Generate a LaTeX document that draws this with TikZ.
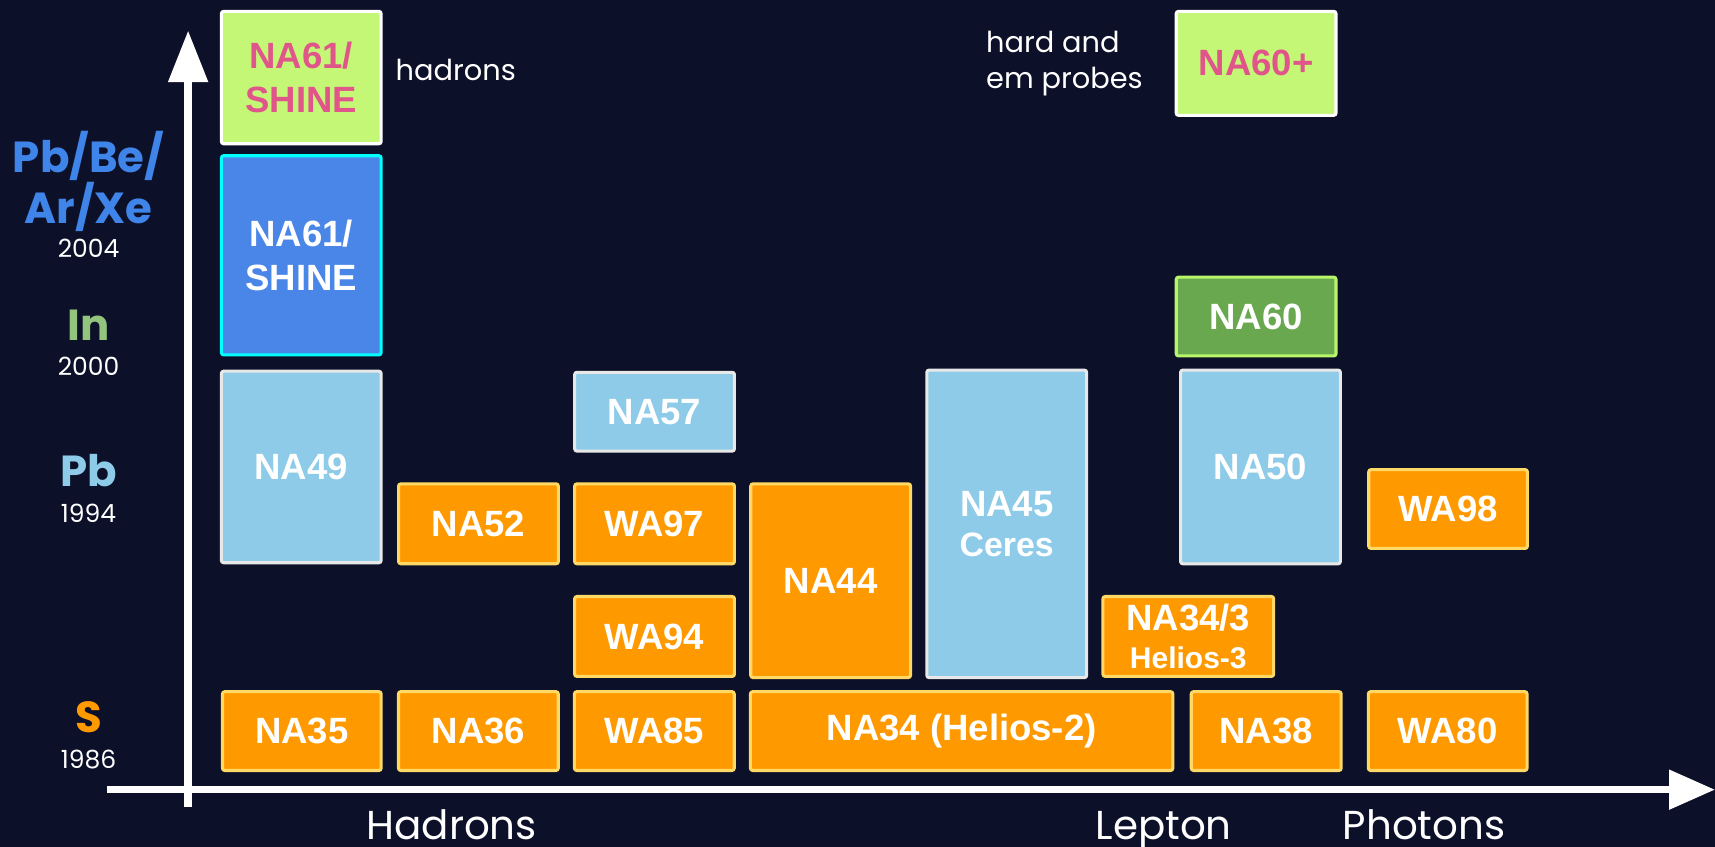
\documentclass[tikz,border=0pt]{standalone}
\usepackage{fontspec}
\setmainfont{Liberation Sans}
\newfontfamily\popfont{Poppins}
\usepackage{tikz}
\usetikzlibrary{positioning,arrows.meta}

\definecolor{bgnavy}{HTML}{0C1029}
\definecolor{sfill}{HTML}{FF9900}
\definecolor{sline}{HTML}{FFD966}
\definecolor{pbfill}{HTML}{8DCBE8}
\definecolor{pbline}{HTML}{E8E8E8}
\definecolor{infill}{HTML}{6AA84F}
\definecolor{inline}{HTML}{B8F56B}
\definecolor{xefill}{HTML}{4A86E8}
\definecolor{xeline}{HTML}{00FFFF}
\definecolor{newfill}{HTML}{C5F777}
\definecolor{newtext}{HTML}{E0558A}
\definecolor{xelab}{HTML}{3F84E8}
\definecolor{inlab}{HTML}{93C47D}

\tikzset{
  expt/.style={rectangle, rounded corners=0.6pt, line width=0.8pt, inner sep=0pt,
    anchor=north west, align=center, text=white,
    font=\bfseries\fontsize{9.5}{11.4}\selectfont},
  sz/.style 2 args={minimum width=#1cm, minimum height=#2cm},
  sbeam/.style={expt, fill=sfill, draw=sline},
  pbbeam/.style={expt, fill=pbfill, draw=pbline},
  inbeam/.style={expt, fill=infill, draw=inline},
  xebeam/.style={expt, fill=xefill, draw=xeline},
  newexp/.style={expt, fill=newfill, draw=white, text=newtext},
  axisline/.style={white, line width=1.9pt},
  ylab/.style={anchor=base, inner sep=0pt, font=\popfont\bfseries\fontsize{11.3}{14}\selectfont},
  yearlab/.style={anchor=base, inner sep=0pt, text=white, font=\popfont\fontsize{6.5}{8}\selectfont},
  note/.style={inner sep=0pt, text=white, align=left, font=\popfont\fontsize{7.5}{9.4}\selectfont},
  xlab/.style={anchor=base, inner sep=0pt, text=white, font=\popfont\fontsize{10.5}{12}\selectfont}
}

\begin{document}
\begin{tikzpicture}[x=0.01cm, y=-0.01cm]
	\fill[bgnavy] (0,0) rectangle (1568,774);
	\useasboundingbox (0,0) rectangle (1568,774);

	%% axes
	\coordinate (h1) at (98,722);
	\coordinate (h2) at (1568,722);
	\coordinate (v1) at (172,738);
	\coordinate (v2) at (172,28);
	\draw[axisline, -{Triangle[length=0.42cm,width=0.35cm]}] (h1) -- (h2);
	\draw[axisline, -{Triangle[length=0.47cm,width=0.35cm]}] (v1) -- (v2);

	%% S beam, 1986
	\node[sbeam, sz={1.45}{0.72}] (na35) at (202,631) {NA35};
	\node[sbeam, sz={1.46}{0.72}, right=0.13cm of na35] (na36) {NA36};
	\node[sbeam, sz={1.46}{0.72}, right=0.12cm of na36] (wa85) {WA85};
	\node[sbeam, sz={3.86}{0.72}, right=0.12cm of wa85] (na34) {NA34 (Helios-2)};
	\node[sbeam, sz={1.37}{0.72}, right=0.14cm of na34] (na38) {NA38};
	\node[sbeam, sz={1.45}{0.72}, right=0.22cm of na38] (wa80) {WA80};
	\node[sbeam, sz={1.46}{0.73}] (na52) at (363,441) {NA52};
	\node[sbeam, sz={1.46}{0.73}] (wa97) at (524,441) {WA97};
	\node[sbeam, sz={1.46}{0.73}] (wa94) at (524,544) {WA94};
	\node[sbeam, sz={1.46}{1.77}] (na44) at (685,441) {NA44};
	\node[sbeam, sz={1.56}{0.73}] (na343) at (1007,544) {NA34/3\\[-1.5pt]{\fontsize{7.8}{9}\selectfont Helios-3}};
	\node[sbeam, sz={1.45}{0.72}] (wa98) at (1250,428) {WA98};

	%% Pb beam, 1994
	\node[pbbeam, sz={1.46}{1.75}] (na49) at (201,338) {NA49};
	\node[pbbeam, sz={1.46}{0.72}] (na57) at (524,339) {NA57};
	\node[pbbeam, sz={1.46}{2.81}] (na45) at (846,337) {NA45\\[-1pt]{\fontsize{8.8}{10}\selectfont Ceres}};
	\node[pbbeam, sz={1.46}{1.77}] (na50) at (1078,337) {NA50};

	%% In, Pb/Be/Ar/Xe and the new ones
	\node[inbeam, sz={1.46}{0.72}] (na60) at (1074,252) {NA60};
	\node[xebeam, sz={1.46}{1.82}] (na61) at (201,141) {NA61/\\SHINE};
	\node[newexp, sz={1.46}{1.21}] (na61p) at (201,9) {NA61/\\SHINE};
	\node[newexp, sz={1.46}{0.95}] (na60p) at (1074,9) {NA60+};

	\node[note, anchor=base west] (nhad) at (361,74) {hadrons};
	\node[note, anchor=north west] (nprobe) at (901,28) {hard and\\em probes};

	%% beams on the y axis
	\node[ylab, text=xelab] (lpbbe) at (81,158) {Pb/Be/};
	\node[ylab, text=xelab] (larxe) at (81,204) {Ar/Xe};
	\node[yearlab] (y04) at (81,235) {2004};
	\node[ylab, text=inlab] (lin) at (81,311) {In};
	\node[yearlab] (y00) at (81,343) {2000};
	\node[ylab, text=pbfill] (lpb) at (81,445) {Pb};
	\node[yearlab] (y94) at (81,478) {1994};
	\node[ylab, text=sfill] (ls) at (81,670) {S};
	\node[yearlab] (y86) at (81,703) {1986};

	%% probes on the x axis
	\node[xlab] (xhad) at (413,768) {Hadrons};
	\node[xlab] (xlep) at (1064,768) {Lepton};
	\node[xlab] (xpho) at (1302,768) {Photons};
\end{tikzpicture}
\end{document}
